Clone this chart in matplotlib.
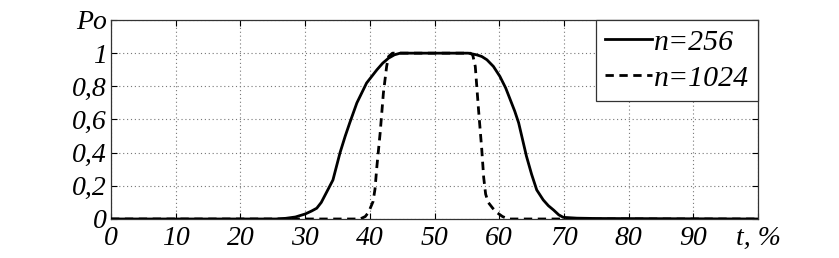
import matplotlib
matplotlib.use("Agg")
import matplotlib.pyplot as plt
import numpy as np

# Data
t_256 = [0, 25.5, 27, 28.5, 30, 31, 31.8, 32.5, 33.3, 34.3, 35.4, 36.2, 36.9, 38.0, 39.5,
         41.1, 42.0, 42.9, 43.8, 44.7,
         55.2, 56.5, 57.3, 58.1, 59.1, 60.1, 61.0, 61.7, 62.4, 63.0, 63.6, 64.2, 65.0, 65.8,
         66.8, 67.6, 68.4, 69.2, 69.9, 72, 75, 100]
p_256 = [0, 0, 0.004, 0.012, 0.03, 0.048, 0.065, 0.10, 0.16, 0.235, 0.40, 0.50, 0.58, 0.70, 0.82,
         0.90, 0.94, 0.97, 0.99, 1.0,
         1.0, 0.99, 0.98, 0.96, 0.92, 0.86, 0.79, 0.72, 0.65, 0.58, 0.48, 0.38, 0.27, 0.175,
         0.115, 0.08, 0.054, 0.025, 0.01, 0.005, 0.003, 0]

t_1024 = [0, 38.5, 39.3, 39.8, 40.5, 40.8, 41.1, 41.6, 42.1, 42.6, 42.9, 43.5,
          55.5, 55.9, 56.3, 56.8, 57.3, 57.6, 57.9, 58.3, 59.0, 59.6, 60.5, 61.4, 100]
p_1024 = [0, 0, 0.015, 0.04, 0.105, 0.18, 0.32, 0.52, 0.76, 0.92, 0.98, 1.0,
          1.0, 0.99, 0.92, 0.66, 0.42, 0.25, 0.15, 0.10, 0.065, 0.04, 0.015, 0.0, 0]

x_ticks = [0, 10, 20, 30, 40, 50, 60, 70, 80, 90, 100]
x_labels = ["0", "10", "20", "30", "40", "50", "60", "70", "80", "90", "t, %"]
y_ticks = [0, 0.2, 0.4, 0.6, 0.8, 1.0, 1.2]
y_labels = ["0", "0,2", "0,4", "0,6", "0,8", "1", "Po"]
series_names = ["n=256", "n=1024"]

plt.rcParams['font.family'] = ['Liberation Serif', 'DejaVu Serif']
plt.rcParams['font.style'] = 'italic'

fig = plt.figure(figsize=(8.39, 2.58), dpi=100)
ax = fig.add_axes([0.1323, 0.1512, 0.9035 - 0.1323, 0.9225 - 0.1512])

ax.plot(t_256, p_256, color='black', lw=2.0, label=series_names[0], zorder=3)
ax.plot(t_1024, p_1024, color='black', lw=2.0, ls=(0, (3, 2)), label=series_names[1], zorder=3)

ax.set_xlim(0, 100)
ax.set_ylim(0, 1.2)
ax.set_xticks(x_ticks)
ax.set_xticklabels(x_labels, fontsize=20, style='italic')
ax.set_yticks(y_ticks)
ax.set_yticklabels(y_labels, fontsize=20, style='italic')
ax.tick_params(direction='in', length=4, width=0.8, top=True, right=True)
ax.tick_params(axis='x', pad=5)
ax.tick_params(axis='y', pad=3)
ax.grid(True, color='#777777', ls=(0, (1, 2.5)), lw=0.8)
for s in ax.spines.values():
    s.set_linewidth(0.9)
    s.set_color('#333333')

leg = ax.legend(loc='upper right', frameon=True, fancybox=False,
                handlelength=1.6, handletextpad=0.05, borderpad=0.3, labelspacing=0.3,
                borderaxespad=0.0, prop={'family': 'Liberation Serif', 'style': 'italic', 'size': 21.5})
leg.get_frame().set_edgecolor('#333333')
leg.get_frame().set_linewidth(0.9)
leg.get_frame().set_alpha(1)

fig.savefig('out.png', dpi=100)
